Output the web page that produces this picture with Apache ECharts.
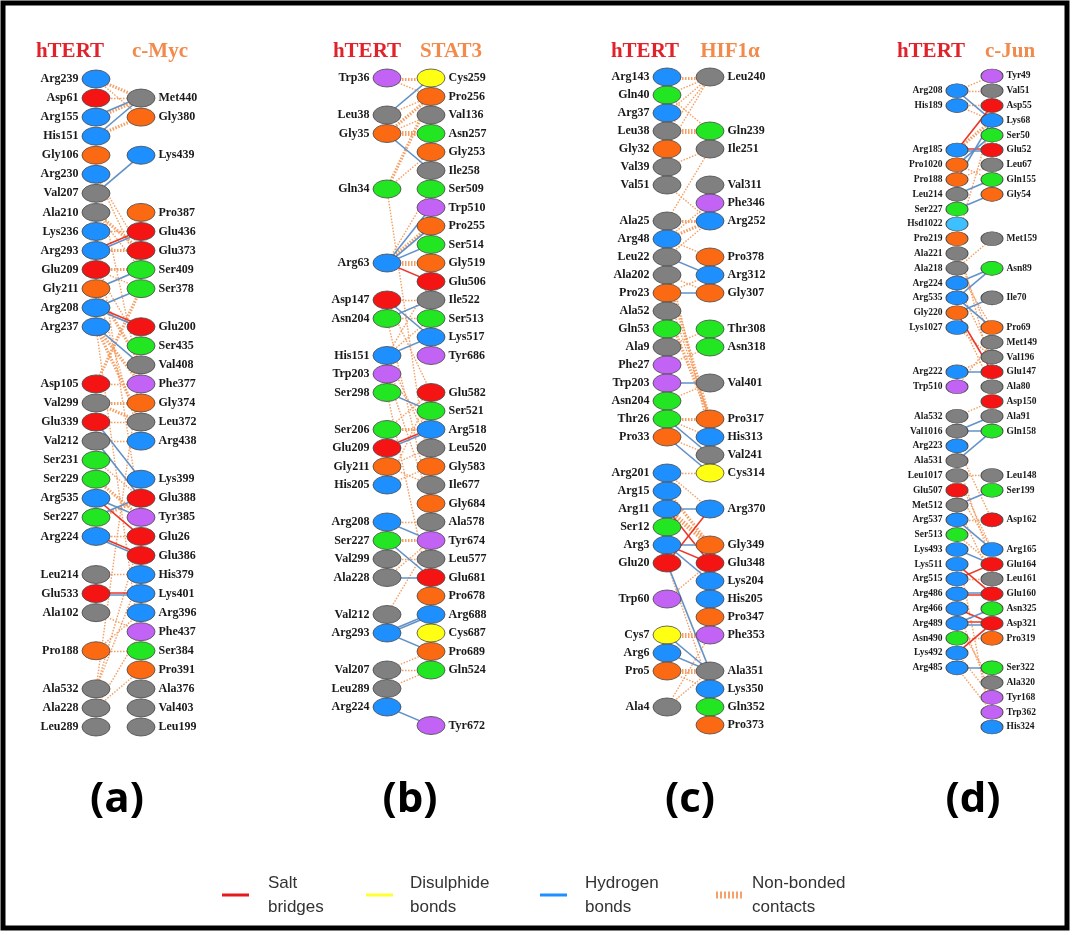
<!DOCTYPE html>
<html><head><meta charset="utf-8">
<script src="https://cdn.jsdelivr.net/npm/echarts@6/dist/echarts.min.js"></script>
<style>html,body{margin:0;padding:0;background:#fff}#c{width:1072px;height:935px}</style>
</head><body><div id="c"></div><script>
// ---------------- DATA ----------------
const partners = ['c-Myc', 'STAT3', 'HIF1α', 'c-Jun'];
const panelTags = ['(a)', '(b)', '(c)', '(d)'];
const legendNames = ['Salt\nbridges', 'Disulphide\nbonds', 'Hydrogen\nbonds', 'Non-bonded\ncontacts'];

// residues listed top to bottom; null = empty row
const aLeft = ['Arg239','Asp61','Arg155','His151','Gly106','Arg230','Val207','Ala210','Lys236','Arg293','Glu209','Gly211','Arg208','Arg237',null,null,'Asp105','Val299','Glu339','Val212','Ser231','Ser229','Arg535','Ser227','Arg224',null,'Leu214','Glu533','Ala102',null,'Pro188',null,'Ala532','Ala228','Leu289'];
const aRight = [null,'Met440','Gly380',null,'Lys439',null,null,'Pro387','Glu436','Glu373','Ser409','Ser378',null,'Glu200','Ser435','Val408','Phe377','Gly374','Leu372','Arg438',null,'Lys399','Glu388','Tyr385','Glu26','Glu386','His379','Lys401','Arg396','Phe437','Ser384','Pro391','Ala376','Val403','Leu199'];
const aLinks = [
 ['Arg239','Met440','N',2],['Arg239','Gly380','N',1],['Asp61','Met440','N',1],['Arg155','Met440','H'],['Arg155','Met440','N',2],
 ['His151','Met440','H'],['His151','Gly380','N',2],['Val207','Lys439','H'],['Arg230','Ser409','N',1],['Arg230','Glu373','N',1],
 ['Ala210','Glu373','N',2],['Ala210','Ser409','N',1],['Lys236','Glu436','N',1],['Arg293','Glu436','S'],['Arg293','Glu436','H'],
 ['Arg293','Glu373','N',2],['Glu209','Ser378','N',1],['Glu209','Ser409','N',2],['Gly211','Ser409','H'],['Arg208','Ser378','H'],
 ['Arg208','Glu200','S'],['Arg208','Glu200','H'],['Arg237','Val408','H'],['Arg237','Phe377','N',2],['Glu209','Ser435','N',1],
 ['Gly211','Val408','N',2],['Asp105','Phe377','N',1],['Asp105','Ser378','N',2],['Val299','Gly374','N',2],['Val299','Leu372','N',2],
 ['Glu339','Leu372','N',1],['Glu339','Lys399','H'],['Val212','Glu388','H'],['Val212','Arg438','N',1],['Ser231','Glu388','N',1],
 ['Ser229','Tyr385','N',2],['Arg535','Tyr385','H'],['Arg535','Glu26','S'],['Ser227','Glu388','H'],['Ser227','Glu388','N',2],
 ['Arg224','Glu386','S'],['Arg224','Glu386','H'],['Arg224','Glu26','N',1],['Glu533','Lys401','S'],['Glu533','Lys401','H'],
 ['Leu214','His379','N',1],['Ala102','Phe437','N',1],['Pro188','Arg396','N',1],['Pro188','Ser384','N',1],['Ala532','Glu26','N',1],
 ['Ala532','Val408','N',1],['Ala228','Pro391','N',1],['Ala532','His379','N',1],['Arg237','Ser384','N',1],['Lys236','Tyr385','N',1],
 ['Arg230','Phe377','N',1],['Ala228','Phe437','N',1],['Gly211','Arg438','N',1],['Arg237','Leu372','N',2]
];

const bLeft = ['Trp36',null,'Leu38','Gly35',null,null,'Gln34',null,null,null,'Arg63',null,'Asp147','Asn204',null,'His151','Trp203','Ser298',null,'Ser206','Glu209','Gly211','His205',null,'Arg208','Ser227','Val299','Ala228',null,'Val212','Arg293',null,'Val207','Leu289','Arg224'];
const bRight = ['Cys259','Pro256','Val136','Asn257','Gly253','Ile258','Ser509','Trp510','Pro255','Ser514','Gly519','Glu506','Ile522','Ser513','Lys517','Tyr686',null,'Glu582','Ser521','Arg518','Leu520','Gly583','Ile677','Gly684','Ala578','Tyr674','Leu577','Glu681','Pro678','Arg688','Cys687','Pro689','Gln524',null,null,'Tyr672'];
const bLinks = [
 ['Trp36','Cys259','N',3],['Trp36','Pro256','N',1],['Leu38','Cys259','H'],['Leu38','Pro256','N',1],['Gly35','Pro256','N',2],
 ['Gly35','Val136','N',1],['Gly35','Asn257','N',3],['Gly35','Ile258','H'],['Gln34','Pro256','N',2],['Gln34','Gly253','N',1],
 ['Arg63','Ser509','N',1],['Arg63','Trp510','H'],['Arg63','Pro255','N',2],['Arg63','Ser514','H'],['Arg63','Gly519','N',3],
 ['Arg63','Glu506','S'],['Arg63','Pro255','H'],['Asp147','Ile522','N',1],['Asp147','Lys517','H'],['Asn204','Ile522','H'],
 ['Asn204','Ser513','N',1],['His151','Lys517','H'],['His151','Ser513','N',1],['His151','Glu506','N',1],['Ser298','Ser521','H'],
 ['Trp203','Arg518','N',1],['Ser206','Arg518','N',2],['Ser206','Glu582','N',1],['Glu209','Arg518','S'],['Glu209','Arg518','H'],
 ['Gly211','Leu520','N',1],['His205','Gly583','N',1],['His205','Glu582','N',1],['Arg208','Ala578','N',1],['Arg208','Tyr674','H'],
 ['Ser227','Tyr674','N',2],['Ser227','Glu681','H'],['Val299','Leu577','N',1],['Ala228','Glu681','H'],['Ala228','Tyr674','N',1],
 ['Val212','Tyr674','N',1],['Arg293','Arg688','H'],['Arg293','Arg688','H'],['Arg293','Pro689','H'],['Val207','Gln524','N',1],
 ['Val207','Pro689','N',1],['Leu289','Gln524','N',1],['Arg224','Tyr672','H'],['Gln34','Ile677','N',1],['Asn204','Gly684','N',1],
 ['Ser298','Pro678','N',1],['Asp147','Glu582','N',1],['Trp203','Gly684','N',1],['Gly211','Ile677','N',1],['His151','Leu520','N',1]
];

const cLeft = ['Arg143','Gln40','Arg37','Leu38','Gly32','Val39','Val51',null,'Ala25','Arg48','Leu22','Ala202','Pro23','Ala52','Gln53','Ala9','Phe27','Trp203','Asn204','Thr26','Pro33',null,'Arg201','Arg15','Arg11','Ser12','Arg3','Glu20',null,'Trp60',null,'Cys7','Arg6','Pro5',null,'Ala4'];
const cRight = ['Leu240',null,null,'Gln239','Ile251',null,'Val311','Phe346','Arg252',null,'Pro378','Arg312','Gly307',null,'Thr308','Asn318',null,'Val401',null,'Pro317','His313','Val241','Cys314',null,'Arg370',null,'Gly349','Glu348','Lys204','His205','Pro347','Phe353',null,'Ala351','Lys350','Gln352','Pro373'];
const cLinks = [
 ['Arg143','Leu240','N',3],['Gln40','Leu240','N',1],['Arg37','Leu240','N',1],['Leu38','Leu240','N',1],['Leu38','Gln239','N',3],
 ['Gln40','Gln239','N',1],['Gly32','Leu240','N',1],['Val39','Ile251','N',1],['Ala25','Ile251','N',1],['Ala25','Arg252','N',2],
 ['Arg48','Arg252','N',2],['Arg48','Phe346','N',1],['Arg48','Pro378','N',1],['Leu22','Arg252','N',1],['Leu22','Arg312','H'],
 ['Ala202','Gly307','N',1],['Pro23','Gly307','H'],['Pro23','Arg312','N',1],['Ala52','Pro317','N',2],['Ala9','Thr308','N',1],
 ['Phe27','Asn318','N',1],['Trp203','Val401','H'],['Asn204','Val401','N',1],['Thr26','Pro317','N',2],['Thr26','His313','N',1],
 ['Thr26','Val241','H'],['Pro33','Val241','N',1],['Pro33','Cys314','H'],['Arg201','Arg370','N',1],['Arg15','Gly349','N',2],
 ['Arg11','Arg370','H'],['Arg11','Glu348','S'],['Arg11','Gly349','N',3],['Arg3','Gly349','H'],['Glu20','Arg370','S'],
 ['Arg3','Lys204','H'],['Arg3','Glu348','S'],['Glu20','Ala351','H'],['Trp60','Glu348','N',1],['Cys7','Phe353','N',3],
 ['Cys7','Ala351','H'],['Arg6','Ala351','H'],['Pro5','Ala351','N',3],['Pro5','Lys350','N',1],['Ala4','Phe353','N',1],
 ['Ala4','Ala351','N',1],['Arg201','Cys314','N',1],['Val51','Arg252','N',1],['Leu22','His313','N',1],['Pro23','Pro317','N',1],
 ['Ala202','Pro317','N',2],['Glu20','Lys350','N',1]
];

const dLeft = [null,'Arg208','His189',null,null,'Arg185','Pro1020','Pro188','Leu214','Ser227','Hsd1022','Pro219','Ala221','Ala218','Arg224','Arg535','Gly220','Lys1027',null,null,'Arg222','Trp510',null,'Ala532','Val1016','Arg223','Ala531','Leu1017','Glu507','Met512','Arg537','Ser513','Lys493','Lys511','Arg515','Arg486','Arg466','Arg489','Asn490','Lys492','Arg485'];
const dRight = ['Tyr49','Val51','Asp55','Lys68','Ser50','Glu52','Leu67','Gln155','Gly54',null,null,'Met159',null,'Asn89',null,'Ile70',null,'Pro69','Met149','Val196','Glu147','Ala80','Asp150','Ala91','Gln158',null,null,'Leu148','Ser199',null,'Asp162',null,'Arg165','Glu164','Leu161','Glu160','Asn325','Asp321','Pro319',null,'Ser322','Ala320','Tyr168','Trp362','His324'];
const dLinks = [
 ['Arg208','Tyr49','N',1],['Arg208','Val51','N',1],['Arg208','Lys68','H'],['His189','Asp55','N',1],['His189','Lys68','N',1],
 ['Arg185','Glu52','S'],['Arg185','Glu52','H'],['Arg185','Asp55','S'],['Arg185','Lys68','N',2],['Pro1020','Ser50','H'],
 ['Pro1020','Gln155','N',1],['Pro188','Lys68','H'],['Pro188','Leu67','N',1],['Leu214','Gln155','H'],['Ser227','Gly54','H'],
 ['Pro219','Lys68','N',1],['Arg224','Asn89','H'],['Arg535','Asn89','H'],['Arg535','Pro69','H'],['Gly220','Ile70','H'],
 ['Gly220','Glu147','S'],['Arg222','Glu147','H'],['Arg222','Val196','N',1],['Trp510','Met149','N',1],['Lys1027','Val196','N',1],
 ['Ala532','Asp150','N',1],['Val1016','Ala91','H'],['Val1016','Gln158','H'],['Ala531','Gln158','H'],['Leu1017','Leu148','N',1],
 ['Met512','Ser199','H'],['Arg537','Asp162','N',1],['Arg537','Arg165','H'],['Ser513','Glu164','N',1],['Lys493','Glu164','H'],
 ['Lys511','Glu160','S'],['Arg515','Glu164','S'],['Arg515','Leu161','N',1],['Arg486','Glu160','H'],['Arg486','Glu160','S'],
 ['Arg466','Asp321','S'],['Arg489','Asp321','S'],['Arg489','Asp321','H'],['Arg489','Asn325','H'],['Lys492','Asp321','S'],
 ['Asn490','Pro319','N',1],['Arg485','Ser322','H'],['Arg485','Trp362','N',1],['Arg489','Ala320','N',1],['Arg466','Tyr168','N',1],
 ['Lys492','Tyr168','N',1],['Ala218','Pro69','N',1],['Ala221','Met149','N',1],['Pro219','Glu147','N',1],['Arg223','Asp162','N',1],
 ['Glu507','Arg165','N',1],['Met512','Leu161','N',1],['Leu1017','Arg165','N',1],['Gly220','Ala80','N',1],['Ala218','Met159','N',1],
 ['Arg224','Val196','N',1],['Ala531','Glu164','N',1],['Lys493','His324','N',1]
];

// ---------------- STYLE ----------------
const resColors = {
  Arg:'#1e8fff', Lys:'#1e8fff', His:'#1e8fff', Hsd:'#3cc0ff',
  Asp:'#f41414', Glu:'#f41414',
  Gly:'#fb6a12', Pro:'#fb6a12',
  Ala:'#808080', Val:'#808080', Leu:'#808080', Ile:'#808080', Met:'#808080',
  Ser:'#22e622', Thr:'#22e622', Asn:'#22e622', Gln:'#22e622',
  Phe:'#c263f5', Tyr:'#c263f5', Trp:'#c263f5',
  Cys:'#ffff14'
};
const linkColors = { S:'#ec2a1c', D:'#f5e61a', H:'#5b8cc4', N:'#f49a5c' };
const layouts = [
  {left:96, width:45, top:79, height:648, sym:[28,18], fs:12},
  {left:387, width:44, top:78, height:647.5, sym:[28,18], fs:12},
  {left:667, width:43, top:77, height:648, sym:[28,18], fs:12},
  {left:957, width:35, top:76, height:651, sym:[22,14], fs:9.5}
];
const titleCenters = [[70,160],[367,451],[645,730],[931,1010]];
const tagCenters = [117,410,690,973];
const panels = [[aLeft,aRight,aLinks],[bLeft,bRight,bLinks],[cLeft,cRight,cLinks],[dLeft,dRight,dLinks]];

const grid = [], xAxis = [], yAxis = [], series = [];
panels.forEach(([L, R, links], i) => {
  const lay = layouts[i];
  const nRows = Math.max(L.length, R.length) - 1;
  grid.push({left: lay.left, width: lay.width, top: lay.top, height: lay.height});
  xAxis.push({gridIndex:i, type:'value', min:0, max:1, show:false});
  yAxis.push({gridIndex:i, type:'value', min:0, max:nRows, inverse:true, show:false});
  const idxL = {}, idxR = {};
  L.forEach((n, k) => { if (n) idxL[n] = k; });
  R.forEach((n, k) => { if (n) idxR[n] = k; });
  const groups = {};
  links.forEach(l => { const key = l[0] + '|' + l[1]; (groups[key] = groups[key] || []).push(l); });
  const nb = [], bd = [];
  Object.values(groups).forEach(g => {
    g.forEach((l, k) => {
      const off = (k - (g.length - 1) / 2) * (i === 3 ? 0.16 : 0.12);
      const y1 = idxL[l[0]], y2 = idxR[l[1]];
      if (y1 === undefined || y2 === undefined) return;
      const t = l[2];
      const item = {coords: [[0, y1 + off], [1, y2 + off]]};
      if (t === 'N') {
        const c = l[3] || 1;
        item.lineStyle = {color: linkColors.N, width: 1.4 + (c - 1) * 1.8, type: [1.5, 1.5], opacity: 0.95};
        nb.push(item);
      } else {
        item.lineStyle = {color: linkColors[t], width: 1.6, type: 'solid', opacity: 0.95};
        bd.push(item);
      }
    });
  });
  series.push({type:'lines', coordinateSystem:'cartesian2d', xAxisIndex:i, yAxisIndex:i, data: nb, z:1, silent:true, lineStyle:{curveness:0}});
  series.push({type:'lines', coordinateSystem:'cartesian2d', xAxisIndex:i, yAxisIndex:i, data: bd, z:2, silent:true, lineStyle:{curveness:0}});
  [[L, 0, 'left'], [R, 1, 'right']].forEach(([col, x, pos]) => {
    const data = [];
    col.forEach((n, k) => { if (n) data.push({name:n, value:[x, k], itemStyle:{color: resColors[n.slice(0,3)] || '#888'}}); });
    series.push({
      type:'scatter', xAxisIndex:i, yAxisIndex:i, data, z:5, symbol:'circle', symbolSize: lay.sym,
      itemStyle:{borderColor:'#4a4a4a', borderWidth:0.8, opacity:1},
      label:{show:true, position:pos, distance:3, formatter:'{b}', color:'#1a1a1a',
             fontFamily:'Liberation Serif', fontWeight:'bold', fontSize: lay.fs},
      emphasis:{disabled:true}, silent:true
    });
  });
});

const graphic = [];
graphic.push({type:'rect', shape:{x:3, y:3, width:1064, height:925}, style:{fill:'none', stroke:'#000', lineWidth:5}, z:100});
titleCenters.forEach((c, i) => {
  graphic.push({type:'text', x:c[0], y:52, style:{text:'hTERT', fill:'#e0232b', font:'bold 21px "Liberation Serif"', align:'center', verticalAlign:'middle'}});
  graphic.push({type:'text', x:c[1], y:52, style:{text:partners[i], fill:'#f28a4c', font:'bold 21px "Liberation Serif"', align:'center', verticalAlign:'middle'}});
  graphic.push({type:'text', x:tagCenters[i], y:800, style:{text:panelTags[i], fill:'#000', font:'bold 42px "Open Sans"', align:'center', verticalAlign:'middle'}});
});
const legX = [222, 366, 540, 716];
const legTextX = [268, 410, 585, 752];
const legKeys = ['S','D','H','N'];
legKeys.forEach((k, i) => {
  const isN = k === 'N';
  graphic.push({type:'line', shape:{x1:legX[i], y1:895, x2:legX[i] + 27, y2:895},
    style:{stroke: isN ? '#f6a16a' : ({S:'#e41a1c', D:'#ffff33', H:'#1e8fff'})[k], lineWidth: isN ? 7 : 3, lineDash: isN ? [2, 2] : null}});
  graphic.push({type:'text', x:legTextX[i], y:895, style:{text:legendNames[i], fill:'#333', font:'17px "Liberation Sans"', align:'left', verticalAlign:'middle', lineHeight:24}});
});

const chart = echarts.init(document.getElementById('c'), null, {renderer:'canvas'});
chart.setOption({animation:false, backgroundColor:'#fff', grid, xAxis, yAxis, series, graphic});
</script></body></html>
